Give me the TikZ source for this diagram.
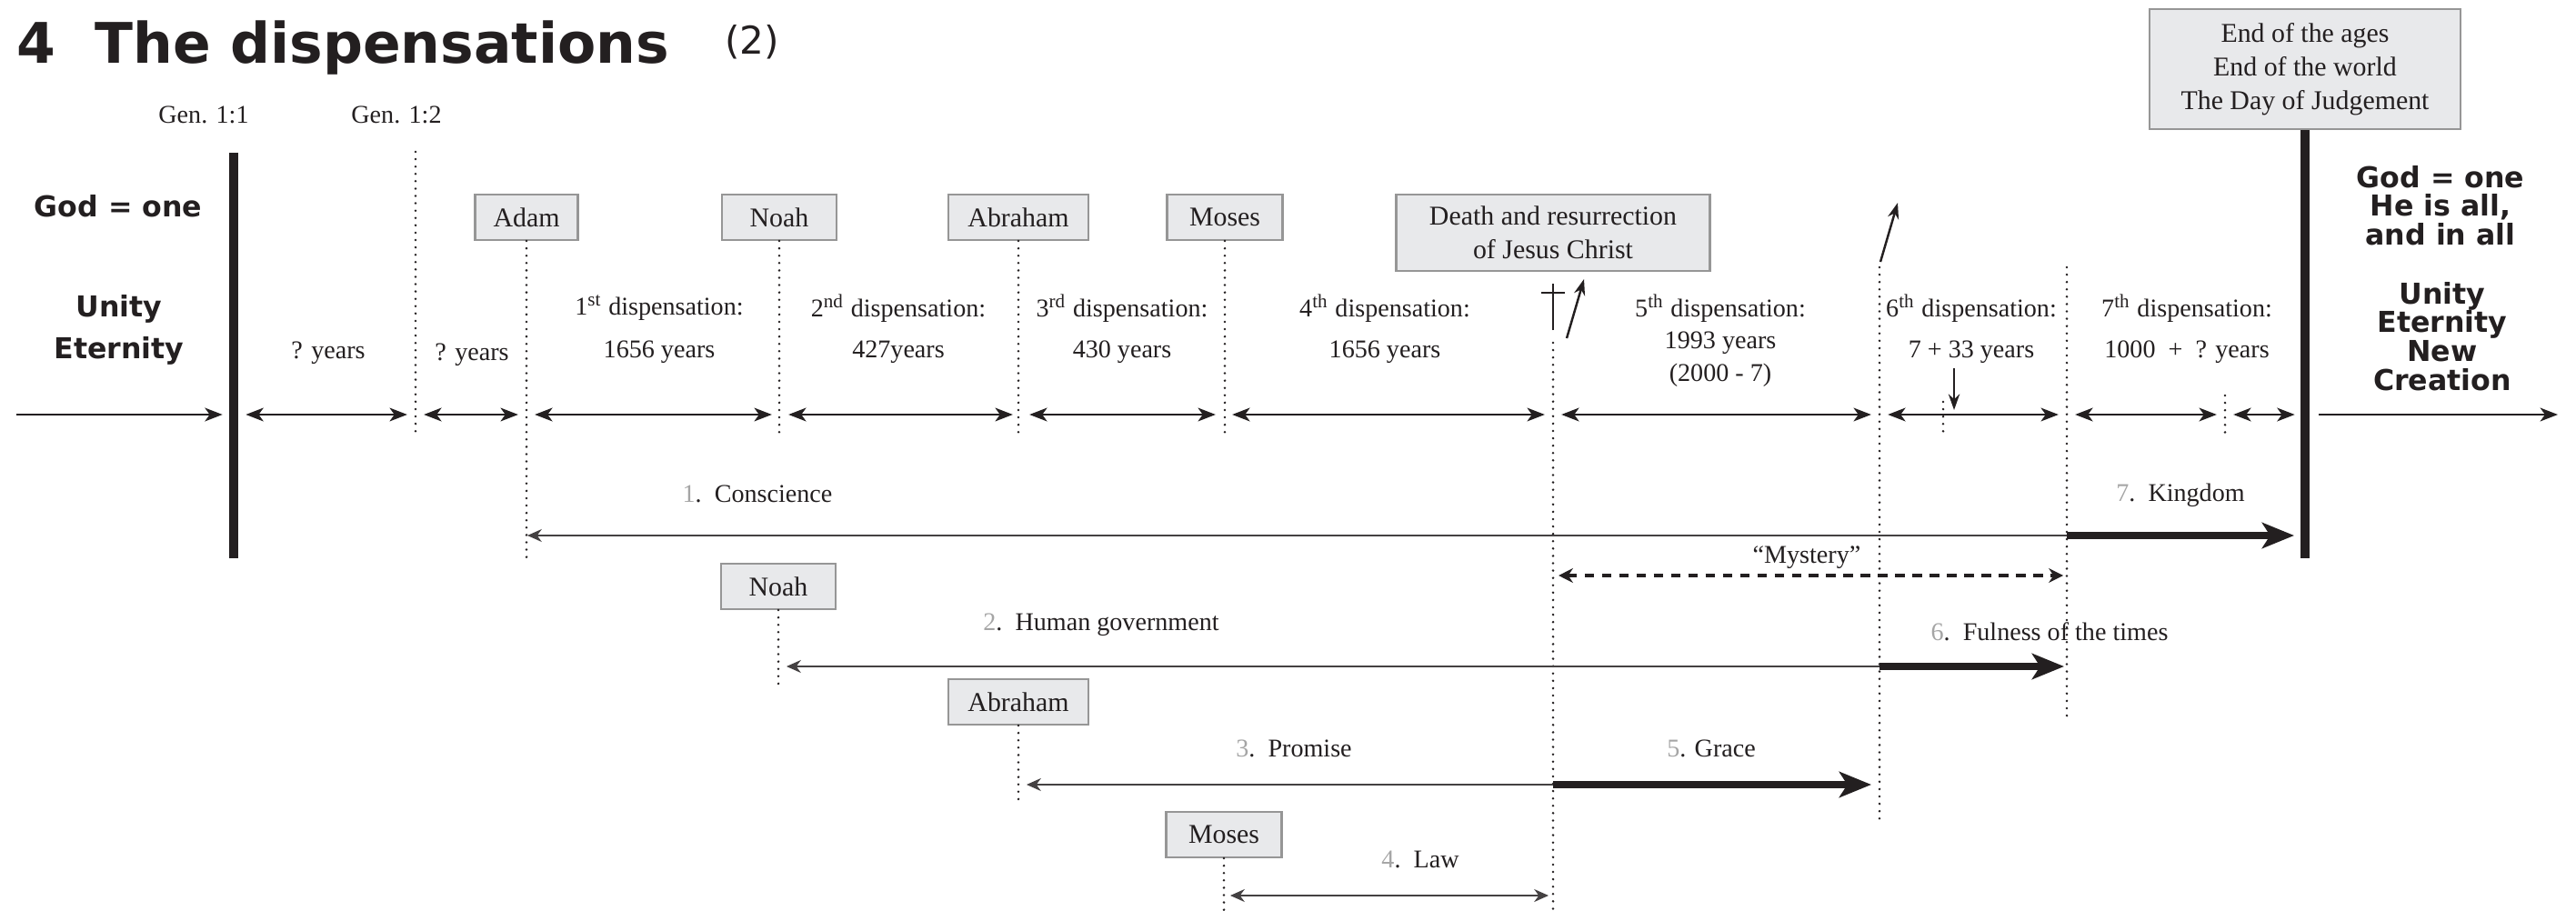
\documentclass[tikz,border=0pt]{standalone}
\usepackage{fontspec}
\setmainfont{Liberation Serif}
\newfontfamily\cartoonfont{DejaVu Sans}
\usetikzlibrary{arrows.meta, positioning}

\definecolor{ink}{RGB}{35,31,32}
\definecolor{boxfill}{RGB}{232,233,235}
\definecolor{boxedge}{RGB}{150,150,150}
\definecolor{numgray}{RGB}{165,165,165}

\newcommand{\dispno}[1]{\textcolor{numgray}{#1}.\enspace}

\tikzset{
  lbl/.style={text=ink, font=\fontsize{8}{9.5}\selectfont, inner sep=1pt},
  namebox/.style={draw=boxedge, fill=boxfill, text=ink, line width=0.6pt, font=\fontsize{8.5}{10.5}\selectfont, minimum height=0.5cm, inner xsep=3pt, align=center},
  cartoon/.style={text=ink, font=\cartoonfont\bfseries\fontsize{9}{9}\selectfont, align=center, inner sep=0pt},
  bar/.style={ink, line width=2.8pt},
  vdots/.style={ink, line width=0.8pt, line cap=round, dash pattern=on 0pt off 2.3pt},
  timearrow/.style={ink, line width=0.8pt, {Stealth[length=5.5pt,width=4.2pt,inset=1.5pt]}-{Stealth[length=5.5pt,width=4.2pt,inset=1.5pt]}, shorten <=2.6pt, shorten >=2.6pt},
  thinarrow/.style={ink!85, line width=0.5pt, -{Stealth[length=4.5pt,width=4pt]}},
  fatarrow/.style={ink, line width=2.2pt, -{Stealth[length=10pt,width=8pt,inset=2.5pt]}},
  pointer/.style={ink, line width=0.7pt, -{Stealth[length=5pt,width=3.5pt]}}
}

\begin{document}
\begin{tikzpicture}
\useasboundingbox (0,0) rectangle (28.33,10.01);

% title
\node[anchor=base west, inner sep=0pt, text=ink, font=\cartoonfont\bfseries\fontsize{17.5}{20}\selectfont] (title) at (0.18,9.31) {4\hspace{0.7em}The dispensations};
\node[text=ink, inner sep=0pt, font=\cartoonfont\fontsize{12}{14}\selectfont] (part) at (8.27,9.55) {(2)};

\node[lbl] (gena) at (2.24,8.75) {Gen. 1:1};
\node[lbl] (genb) at (4.36,8.75) {Gen. 1:2};

% both sides of time
\node[cartoon] (godleft) at (1.30,7.74) {God = one};
\node[cartoon, font=\cartoonfont\bfseries\fontsize{9}{13.3}\selectfont] (unityleft) at (1.31,6.38) {Unity\\Eternity};
\node[cartoon] (godright) at (26.84,7.75) {God = one\\He is all,\\and in all};
\node[cartoon] (unityright) at (26.86,6.31) {Unity\\Eternity\\New\\Creation};

% boxes on the time line
\node[namebox, minimum width=1.13cm] (adam) at (5.79,7.62) {Adam};
\node[namebox, minimum width=1.26cm] (noah) at (8.57,7.62) {Noah};
\node[namebox, minimum width=1.54cm] (abraham) at (11.20,7.62) {Abraham};
\node[namebox, minimum width=1.27cm] (moses) at (13.47,7.62) {Moses};
\node[namebox, minimum width=3.45cm, minimum height=0.84cm] (death) at (17.08,7.45) {Death and resurrection\\of Jesus Christ};
\node[namebox, minimum width=3.42cm, minimum height=1.32cm] (endbox) at (25.35,9.25) {End of the ages\\End of the world\\The Day of Judgement};

% thick bars
\draw[bar] (2.57,8.33) -- (2.57,3.87);
\draw[bar] (endbox.south) -- (endbox.south |- 0,3.87);

% dotted dividers
\draw[vdots] (4.57,8.34) -- (4.57,5.21);
\draw[vdots] (adam.south) -- (adam.south |- 0,3.83);
\draw[vdots] (noah.south) -- (noah.south |- 0,5.19);
\draw[vdots] (abraham.south) -- (abraham.south |- 0,5.21);
\draw[vdots] (moses.south) -- (moses.south |- 0,5.21);
\draw[vdots] (17.08,6.24) -- (17.08,0);
\draw[vdots] (20.67,7.07) -- (20.67,0.98);
\draw[vdots] (22.73,7.07) -- (22.73,2.06);
\draw[vdots] (24.47,5.66) -- (24.47,5.24);
\draw[vdots] (21.37,5.59) -- (21.37,5.19);

% time line
\coordinate (start) at (0.18,5.45);
\coordinate (t0) at (2.57,5.45);
\coordinate (t1) at (4.57,5.45);
\coordinate (t2) at (5.79,5.45);
\coordinate (t3) at (8.58,5.45);
\coordinate (t4) at (11.23,5.45);
\coordinate (t5) at (13.46,5.45);
\coordinate (t6) at (17.08,5.45);
\coordinate (t7) at (20.67,5.45);
\coordinate (t8) at (22.73,5.45);
\coordinate (t9) at (24.47,5.45);
\coordinate (t10) at (25.37,5.45);
\coordinate (finish) at (28.13,5.45);
\draw[ink, line width=0.8pt, -{Stealth[length=5.5pt,width=4.2pt,inset=1.5pt]}, shorten >=3.5pt] (start) -- (t0);
\draw[timearrow, shorten <=3.8pt] (t0) -- (t1);
\draw[timearrow] (t1) -- (t2);
\draw[timearrow] (t2) -- (t3);
\draw[timearrow] (t3) -- (t4);
\draw[timearrow] (t4) -- (t5);
\draw[timearrow] (t5) -- (t6);
\draw[timearrow] (t6) -- (t7);
\draw[timearrow] (t7) -- (t8);
\draw[timearrow] (t8) -- (t9);
\draw[timearrow, shorten >=3.8pt] (t9) -- (t10);
\draw[ink, line width=0.8pt, -{Stealth[length=5.5pt,width=4.2pt,inset=1.5pt]}, shorten <=3.8pt] (t10) -- (finish);

% periods
\node[lbl] (yrsa) at (3.61,6.13) {? years};
\node[lbl] (yrsb) at (5.19,6.11) {? years};
\node[lbl] (disp1) at (7.25,6.62) {1\textsuperscript{st} dispensation:};
\node[lbl] (yrs1) at (7.25,6.14) {1656 years};
\node[lbl] (disp2) at (9.88,6.62) {2\textsuperscript{nd} dispensation:};
\node[lbl] (yrs2) at (9.88,6.14) {427years};
\node[lbl] (disp3) at (12.34,6.62) {3\textsuperscript{rd} dispensation:};
\node[lbl] (yrs3) at (12.34,6.14) {430 years};
\node[lbl] (disp4) at (15.23,6.62) {4\textsuperscript{th} dispensation:};
\node[lbl] (yrs4) at (15.23,6.14) {1656 years};
\node[lbl] (disp5) at (18.92,6.62) {5\textsuperscript{th} dispensation:};
\node[lbl] (yrs5) at (18.92,6.24) {1993 years};
\node[lbl] (yrs5b) at (18.92,5.88) {(2000 - 7)};
\node[lbl] (disp6) at (21.68,6.62) {6\textsuperscript{th} dispensation:};
\node[lbl] (yrs6) at (21.68,6.14) {7 + 33 years};
\node[lbl] (disp7) at (24.05,6.62) {7\textsuperscript{th} dispensation:};
\node[lbl] (yrs7) at (24.05,6.14) {1000\enspace+\enspace? years};

% cross and ascension
\draw[ink, line width=0.6pt] (17.08,6.38) -- (17.08,6.89);
\draw[ink, line width=0.6pt] (16.95,6.79) -- (17.21,6.79);
\draw[pointer] (17.23,6.29) -- (17.42,6.94);
\draw[pointer] (20.68,7.13) -- (20.87,7.78);
\draw[pointer] (21.49,5.96) -- (21.49,5.50);

% the seven dispensations below
\node[lbl] (conscience) at (8.33,4.58) {\dispno{1}Conscience};
\node[lbl] (kingdom) at (23.98,4.56) {\dispno{7}Kingdom};
\coordinate (kstart) at (22.73,4.12);
\draw[thinarrow] (kstart) -- (5.80,4.12);
\draw[fatarrow] (kstart) -- (25.23,4.12);

\node[lbl] (mystery) at (19.87,3.88) {“Mystery”};
\draw[ink, line width=0.9pt, dash pattern=on 3pt off 2.4pt, {Stealth[length=4.5pt,width=4.5pt]}-{Stealth[length=4.5pt,width=4.5pt]}] (17.14,3.68) -- (22.69,3.68);

\node[namebox, minimum width=1.26cm] (noahb) at (8.56,3.56) {Noah};
\draw[vdots] (noahb.south) -- (noahb.south |- 0,2.44);
\node[lbl] (humangov) at (12.11,3.14) {\dispno{2}Human government};
\node[lbl] (fulness) at (22.54,3.06) {\dispno{6}Fulness of the times};
\coordinate (fstart) at (20.67,2.68);
\draw[thinarrow] (fstart) -- (8.65,2.68);
\draw[fatarrow] (fstart) -- (22.70,2.68);

\node[namebox, minimum width=1.54cm] (abrahamb) at (11.20,2.29) {Abraham};
\draw[vdots] (abrahamb.south) -- (abrahamb.south |- 0,1.16);
\node[lbl] (promise) at (14.23,1.78) {\dispno{3}Promise};
\node[lbl] (grace) at (18.82,1.78) {\textcolor{numgray}{5}. Grace};
\coordinate (gstart) at (17.08,1.38);
\draw[thinarrow] (gstart) -- (11.29,1.38);
\draw[fatarrow] (gstart) -- (20.58,1.38);

\node[namebox, minimum width=1.27cm] (mosesb) at (13.46,0.83) {Moses};
\draw[vdots] (mosesb.south) -- (mosesb.south |- 0,0);
\node[lbl] (law) at (15.62,0.56) {\dispno{4}Law};
\draw[thinarrow, {Stealth[length=4.5pt,width=4pt]}-{Stealth[length=4.5pt,width=4pt]}] (13.53,0.16) -- (17.03,0.16);

\end{tikzpicture}
\end{document}
